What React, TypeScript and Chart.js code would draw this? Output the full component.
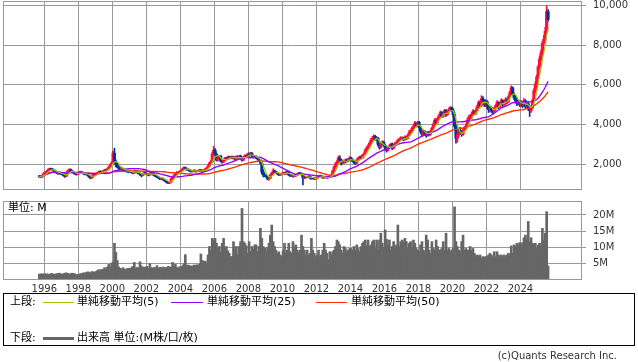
import React, { useEffect, useRef } from "react";
import { Chart, registerables } from "chart.js";

Chart.register(...registerables);

// ---- data (monthly, Sep 1995 .. Aug 2025) ----
const START_YEAR = 1995;
const START_MONTH = 8; // September, 0-based
const FIRST_OPEN = 1400;

const CLOSE = [
  1380, 1350, 1420, 1520, // 1995
  1580, 1620, 1700, 1760, 1740, 1720, 1650, 1600, 1560, 1520, 1560, 1500, // 1996
  1480, 1420, 1380, 1500, 1650, 1720, 1680, 1600, 1560, 1500, 1480, 1520, // 1997
  1560, 1600, 1550, 1520, 1480, 1500, 1440, 1350, 1300, 1380, 1450, 1480, // 1998
  1500, 1550, 1620, 1600, 1580, 1650, 1700, 1680, 1750, 1850, 1950, 2050, // 1999
  2550, 2100, 1950, 1850, 1800, 1750, 1780, 1700, 1680, 1650, 1620, 1600, // 2000
  1620, 1580, 1550, 1650, 1600, 1570, 1520, 1480, 1420, 1500, 1550, 1500, // 2001
  1480, 1450, 1550, 1520, 1480, 1420, 1380, 1350, 1300, 1250, 1280, 1220, // 2002
  1180, 1120, 1080, 1040, 1100, 1250, 1350, 1420, 1500, 1580, 1550, 1620, // 2003
  1680, 1750, 1820, 1780, 1700, 1720, 1650, 1620, 1650, 1680, 1620, 1650, // 2004
  1650, 1700, 1680, 1620, 1680, 1750, 1800, 1900, 2050, 2100, 2500, 2700, // 2005
  2500, 2200, 2300, 2400, 2150, 2100, 2200, 2300, 2250, 2350, 2300, 2350, // 2006
  2300, 2350, 2250, 2380, 2300, 2400, 2300, 2200, 2350, 2420, 2380, 2500, // 2007
  2450, 2550, 2400, 2350, 2400, 2300, 2250, 2200, 2050, 1600, 1450, 1400, // 2008
  1350, 1250, 1300, 1450, 1550, 1650, 1600, 1550, 1500, 1450, 1480, 1520, // 2009
  1550, 1500, 1600, 1580, 1450, 1400, 1420, 1380, 1400, 1450, 1500, 1550, // 2010
  1500, 1480, 1300, 1350, 1320, 1350, 1380, 1300, 1280, 1300, 1250, 1280, // 2011
  1330, 1380, 1400, 1350, 1300, 1320, 1330, 1310, 1340, 1360, 1450, 1650, // 2012
  1850, 2000, 2100, 2300, 2200, 2050, 2150, 2100, 2200, 2150, 2250, 2300, // 2013
  2200, 2150, 2100, 2050, 2200, 2300, 2350, 2300, 2450, 2500, 2700, 2800, // 2014
  2900, 3050, 3200, 3300, 3400, 3250, 3300, 3000, 2850, 3050, 3100, 2950, // 2015
  2800, 2700, 2850, 2900, 3000, 2800, 2950, 3050, 3100, 3200, 3250, 3300, // 2016
  3300, 3250, 3350, 3300, 3450, 3600, 3650, 3800, 3900, 4050, 3950, 4100, // 2017
  3850, 3650, 3500, 3650, 3550, 3450, 3600, 3500, 3650, 3800, 4000, 4200, // 2018
  4100, 4300, 4450, 4600, 4400, 4550, 4700, 4500, 4650, 4750, 4850, 4700, // 2019
  4500, 3900, 3300, 3500, 3700, 3600, 3500, 3700, 3800, 3900, 4200, 4350, // 2020
  4400, 4500, 4650, 4550, 4700, 4900, 5100, 4950, 5300, 5200, 5000, 5150, // 2021
  4900, 4750, 4850, 4700, 4650, 4800, 4950, 5100, 4900, 5050, 5200, 5000, // 2022
  5100, 5250, 5150, 5400, 5600, 5850, 5500, 5350, 5200, 5050, 5150, 5000, // 2023
  5100, 4950, 5200, 4900, 5050, 4800, 4700, 4850, 5200, 5700, 6000, 6400, // 2024
  6900, 7300, 7600, 8100, 8300, 8700, 9700, 9300, // 2025
];

const HIGH = [
  1430, 1410, 1450, 1560,
  1620, 1660, 1740, 1790, 1800, 1780, 1750, 1690, 1640, 1600, 1600, 1590,
  1540, 1510, 1460, 1530, 1680, 1760, 1760, 1700, 1630, 1590, 1540, 1560,
  1590, 1640, 1620, 1580, 1550, 1540, 1520, 1460, 1390, 1410, 1480, 1520,
  1540, 1580, 1650, 1660, 1640, 1680, 1740, 1740, 1790, 1890, 2000, 2120,
  2650, 2800, 2200, 2050, 1920, 1850, 1840, 1800, 1750, 1720, 1700, 1680,
  1680, 1660, 1620, 1700, 1690, 1640, 1600, 1560, 1500, 1530, 1590, 1580,
  1540, 1510, 1580, 1590, 1550, 1500, 1450, 1420, 1380, 1330, 1310, 1300,
  1250, 1210, 1150, 1110, 1130, 1280, 1380, 1470, 1560, 1620, 1610, 1650,
  1720, 1790, 1860, 1850, 1800, 1760, 1740, 1690, 1690, 1720, 1700, 1680,
  1700, 1740, 1730, 1700, 1710, 1780, 1830, 1950, 2100, 2180, 2600, 2900,
  2780, 2560, 2330, 2450, 2430, 2220, 2240, 2340, 2350, 2400, 2400, 2400,
  2400, 2400, 2380, 2420, 2420, 2440, 2450, 2340, 2380, 2460, 2470, 2550,
  2560, 2600, 2580, 2430, 2440, 2420, 2330, 2290, 2240, 2100, 1700, 1520,
  1450, 1390, 1350, 1480, 1580, 1760, 1700, 1640, 1590, 1540, 1510, 1560,
  1600, 1580, 1640, 1650, 1600, 1480, 1460, 1450, 1430, 1480, 1530, 1580,
  1580, 1550, 1500, 1380, 1380, 1370, 1410, 1400, 1330, 1330, 1320, 1300,
  1360, 1410, 1440, 1420, 1370, 1350, 1360, 1350, 1370, 1390, 1480, 1700,
  1900, 2080, 2180, 2400, 2420, 2250, 2200, 2200, 2250, 2260, 2300, 2380,
  2350, 2260, 2200, 2150, 2250, 2350, 2400, 2400, 2500, 2560, 2780, 2900,
  2980, 3120, 3300, 3400, 3480, 3450, 3380, 3350, 3050, 3100, 3180, 3150,
  3000, 2880, 2900, 2980, 3050, 3060, 2980, 3100, 3150, 3260, 3320, 3380,
  3380, 3360, 3420, 3400, 3500, 3700, 3720, 3880, 3980, 4150, 4100, 4150,
  4150, 3900, 3700, 3720, 3700, 3600, 3650, 3650, 3700, 3850, 4080, 4300,
  4280, 4350, 4500, 4680, 4650, 4600, 4760, 4750, 4700, 4820, 4900, 4880,
  4800, 4600, 4000, 3600, 3800, 3850, 3700, 3800, 3900, 4000, 4300, 4450,
  4500, 4600, 4750, 4700, 4780, 4980, 5200, 5150, 5450, 5400, 5250, 5250,
  5200, 5000, 4950, 4900, 4800, 4880, 5000, 5200, 5150, 5100, 5300, 5250,
  5180, 5350, 5300, 5450, 5680, 5950, 5900, 5600, 5450, 5280, 5250, 5200,
  5200, 5150, 5300, 5250, 5100, 5100, 4900, 4950, 5300, 5800, 6150, 6500,
  7000, 7450, 7750, 8200, 8500, 8900, 10000, 9800,
];

const LOW = [
  1330, 1310, 1320, 1400,
  1480, 1540, 1580, 1660, 1700, 1680, 1620, 1570, 1530, 1480, 1490, 1470,
  1450, 1390, 1330, 1360, 1480, 1620, 1650, 1570, 1520, 1470, 1440, 1450,
  1490, 1530, 1530, 1490, 1450, 1450, 1420, 1320, 1250, 1280, 1350, 1420,
  1450, 1480, 1520, 1560, 1540, 1560, 1620, 1640, 1660, 1720, 1820, 1920,
  2000, 2050, 1850, 1800, 1720, 1700, 1700, 1650, 1620, 1600, 1580, 1560,
  1560, 1540, 1500, 1530, 1570, 1540, 1490, 1430, 1350, 1400, 1480, 1470,
  1440, 1400, 1420, 1480, 1450, 1400, 1350, 1310, 1270, 1210, 1220, 1190,
  1150, 1090, 1040, 1010, 1020, 1080, 1220, 1320, 1390, 1470, 1510, 1520,
  1590, 1650, 1720, 1740, 1680, 1670, 1620, 1590, 1590, 1620, 1590, 1590,
  1610, 1620, 1650, 1590, 1600, 1660, 1720, 1780, 1880, 2000, 2080, 2450,
  2400, 2150, 2150, 2250, 2100, 2050, 2080, 2180, 2200, 2220, 2260, 2270,
  2260, 2260, 2200, 2220, 2270, 2270, 2260, 2150, 2170, 2320, 2340, 2350,
  2380, 2400, 2380, 2300, 2320, 2270, 2200, 2150, 2000, 1500, 1350, 1360,
  1320, 1200, 1190, 1280, 1420, 1520, 1560, 1520, 1470, 1410, 1420, 1450,
  1480, 1470, 1480, 1550, 1420, 1370, 1380, 1340, 1350, 1380, 1430, 1480,
  1460, 1440, 950, 1260, 1290, 1300, 1320, 1250, 1230, 1240, 1220, 1210,
  1260, 1310, 1350, 1330, 1280, 1280, 1300, 1280, 1290, 1320, 1340, 1430,
  1620, 1800, 1950, 2050, 2100, 1950, 2000, 2050, 2050, 2100, 2120, 2200,
  2150, 2100, 2020, 1980, 2020, 2160, 2260, 2240, 2280, 2350, 2460, 2650,
  2750, 2850, 3000, 3150, 3250, 3200, 3180, 2900, 2750, 2800, 2980, 2900,
  2700, 2600, 2650, 2780, 2850, 2720, 2760, 2900, 2980, 3050, 3150, 3200,
  3220, 3180, 3200, 3240, 3260, 3400, 3540, 3600, 3720, 3850, 3880, 3900,
  3800, 3550, 3380, 3450, 3480, 3350, 3400, 3420, 3450, 3600, 3750, 3950,
  4000, 4050, 4250, 4400, 4350, 4350, 4500, 4400, 4450, 4600, 4700, 4650,
  4400, 3800, 3050, 3100, 3400, 3500, 3400, 3450, 3650, 3750, 3850, 4150,
  4250, 4300, 4450, 4480, 4500, 4650, 4850, 4850, 4900, 5100, 4900, 4900,
  4800, 4600, 4650, 4600, 4500, 4600, 4750, 4900, 4800, 4850, 5000, 4900,
  4920, 5000, 5050, 5100, 5350, 5550, 5450, 5250, 5100, 4950, 4980, 4900,
  4900, 4850, 4900, 4800, 4850, 4700, 4400, 4600, 4800, 5150, 5600, 5900,
  6300, 6800, 7200, 7500, 8000, 8200, 8600, 9200,
];

// volume, millions
const VOLUME = [
  1.8, 1.9, 1.8, 1.9,
  1.8, 1.9, 1.8, 1.7, 1.9, 2.0, 1.8, 1.7, 1.9, 2.0, 2.1, 1.9,
  1.8, 1.9, 2.1, 2.2, 2.0, 1.8, 1.9, 2.1, 2.0, 1.9, 1.7, 1.6,
  1.8, 1.9, 2.0, 2.2, 2.1, 2.3, 2.5, 2.4, 2.2, 2.6, 2.4, 2.5,
  2.6, 2.9, 3.2, 2.8, 3.3, 3.1, 3.8, 3.2, 4.0, 4.8, 3.9, 5.2,
  5.5, 11.3, 8.5, 6.0, 4.0, 3.6, 3.3, 3.8, 3.4, 3.1, 3.5, 3.6,
  3.5, 3.8, 4.2, 5.4, 3.6, 3.9, 3.7, 5.6, 4.3, 3.8, 4.0, 3.9,
  4.2, 3.6, 5.0, 3.8, 3.6, 3.9, 3.7, 4.4, 3.5, 3.9, 3.6, 4.0,
  3.4, 3.9, 3.6, 4.2, 3.8, 4.0, 5.4, 4.3, 4.8, 3.9, 3.6, 4.1,
  3.8, 4.4, 5.0, 7.8, 4.5, 4.6, 4.4, 4.3, 4.1, 4.6, 4.4, 4.7,
  4.4, 4.8, 8.0, 6.0, 5.6, 5.8, 5.2, 7.7, 10.3, 9.0, 12.8, 12.3,
  12.8, 11.3, 9.7, 10.3, 8.5, 11.3, 12.8, 10.0, 10.3, 9.0, 8.2, 7.2,
  7.2, 11.8, 9.5, 10.3, 7.7, 10.3, 11.8, 22.0, 11.8, 11.3, 10.5, 8.2,
  11.8, 8.7, 10.3, 9.5, 10.8, 10.8, 8.7, 10.3, 15.9, 12.8, 10.3, 9.8,
  8.7, 10.0, 11.3, 13.8, 16.9, 11.8, 10.3, 9.2, 8.2, 8.7, 7.7, 7.2,
  9.0, 11.3, 8.2, 9.2, 11.3, 8.7, 8.2, 11.8, 10.0, 10.8, 9.2, 8.5,
  9.2, 13.8, 10.3, 9.2, 7.7, 9.2, 7.7, 8.2, 12.8, 9.2, 8.2, 7.2,
  7.7, 9.2, 7.2, 7.7, 9.2, 11.3, 9.2, 8.2, 6.2, 8.7, 7.7, 8.7,
  9.2, 10.3, 12.3, 11.8, 10.8, 9.2, 8.2, 10.3, 9.7, 8.7, 9.2, 9.7,
  9.7, 9.2, 10.3, 9.2, 10.8, 9.7, 8.7, 10.3, 11.3, 11.8, 12.3, 10.5,
  12.3, 10.3, 10.8, 11.8, 12.3, 9.7, 12.3, 9.2, 12.3, 14.4, 11.3, 10.0,
  15.4, 12.5, 10.8, 12.3, 9.2, 10.3, 11.8, 9.7, 10.8, 16.9, 10.3, 11.8,
  12.3, 11.8, 12.8, 11.8, 9.7, 11.3, 11.8, 9.7, 12.3, 11.3, 9.7, 9.2,
  8.7, 10.8, 11.8, 9.2, 8.7, 13.8, 12.3, 9.2, 8.2, 11.8, 9.7, 9.2,
  12.3, 10.3, 9.2, 9.2, 9.7, 11.8, 9.2, 14.4, 9.2, 9.7, 8.7, 9.2,
  9.7, 22.5, 11.8, 10.3, 9.2, 8.7, 11.8, 13.8, 9.2, 9.7, 9.2, 9.2,
  10.3, 9.2, 9.7, 8.2, 7.2, 7.7, 7.2, 7.7, 6.7, 7.2, 7.0, 7.2,
  7.2, 7.7, 8.2, 7.7, 7.2, 8.7, 7.2, 8.7, 7.7, 7.2, 7.7, 7.2,
  7.7, 7.2, 7.7, 8.2, 7.7, 10.5, 8.2, 10.8, 10.3, 11.3, 10.8, 11.5,
  10.8, 11.5, 13.0, 13.8, 12.3, 18.0, 11.8, 13.0, 11.3, 10.8, 11.3, 9.7,
  10.8, 11.3, 10.3, 15.9, 12.3, 14.4, 21.0, 4.3,
];

const YEAR_TICKS = [1996, 1998, 2000, 2002, 2004, 2006, 2008, 2010, 2012, 2014, 2016, 2018, 2020, 2022, 2024];
const PRICE_TICKS = [2000, 4000, 6000, 8000, 10000];
const VOLUME_TICKS = [5, 10, 15, 20];
const MA_PERIODS = [5, 25, 50];
const MA_LABELS = ["単純移動平均(5)", "単純移動平均(25)", "単純移動平均(50)"];
const MA_COLORS = ["#99cc00", "#9900ff", "#ff3300"];
const MA_WIDTHS = [1.2, 1.4, 1.4];
const UP_COLOR = "#ff0d3d";
const DOWN_COLOR = "#003399";
const VOL_COLOR = "#666666";
const GRID = "#999999";

const X_MIN = 1993.57;
const X_MAX = 2027.62;

const monthX = (i: number) => START_YEAR + (START_MONTH + i + 0.5) / 12;

function sma(values: number[], n: number): number[] {
  return values.map((_, i) => {
    const s = Math.max(0, i - n + 1);
    let sum = 0;
    for (let k = s; k <= i; k++) sum += values[k];
    return sum / (i - s + 1);
  });
}

const framePlugin = {
  id: "frame",
  afterDraw(chart: any) {
    const { ctx, chartArea: a } = chart;
    ctx.save();
    ctx.strokeStyle = GRID;
    ctx.lineWidth = 1;
    const l = Math.round(a.left) + 0.5;
    const t = Math.round(a.top) + 0.5;
    const r = Math.round(a.right) - 0.5;
    const b = Math.round(a.bottom) - 0.5;
    ctx.strokeRect(l, t, r - l, b - t);
    ctx.restore();
  },
};

const FONT = "'DejaVu Sans', sans-serif";
const JP_FONT = "'DejaVu Sans', 'Noto Sans CJK JP', sans-serif";

const zeroPad = (s: any) => {
  s.paddingTop = 0;
  s.paddingBottom = 0;
  s.paddingLeft = 0;
  s.paddingRight = 0;
};

function xScale(showLabels: boolean, height: number) {
  return {
    type: "linear",
    min: X_MIN,
    max: X_MAX,
    offset: false,
    afterBuildTicks: (s: any) => {
      s.ticks = YEAR_TICKS.map((v) => ({ value: v }));
    },
    afterFit: (s: any) => {
      s.height = height;
      zeroPad(s);
    },
    grid: { color: GRID, lineWidth: 1, drawTicks: false, offset: false },
    border: { display: false },
    ticks: {
      display: showLabels,
      autoSkip: false,
      maxRotation: 0,
      padding: 3,
      color: "#333",
      font: { family: FONT, size: 10 },
      callback: (v: any) => String(v),
    },
  };
}

function yScale(min: number, max: number, ticks: number[], fmt: (v: number) => string) {
  return {
    type: "linear",
    position: "right",
    min,
    max,
    afterBuildTicks: (s: any) => {
      s.ticks = ticks.map((v) => ({ value: v }));
    },
    afterFit: (s: any) => {
      s.width = 56;
      zeroPad(s);
    },
    grid: { color: GRID, lineWidth: 1, tickLength: 4 },
    border: { display: false },
    ticks: {
      padding: 7,
      color: "#333",
      font: { family: FONT, size: 10 },
      callback: (v: any) => fmt(Number(v)),
    },
  };
}

export default function App() {
  const priceRef = useRef<HTMLCanvasElement>(null);
  const volRef = useRef<HTMLCanvasElement>(null);

  useEffect(() => {
    const xs = CLOSE.map((_, i) => monthX(i));
    const opens = CLOSE.map((_, i) => (i === 0 ? FIRST_OPEN : CLOSE[i - 1]));
    const colors = CLOSE.map((c, i) => (c >= opens[i] ? UP_COLOR : DOWN_COLOR));

    const maSets = MA_PERIODS.map((p, k) => ({
      type: "line",
      label: MA_LABELS[k],
      data: sma(CLOSE, p).map((y, i) => ({ x: xs[i], y })),
      borderColor: MA_COLORS[k],
      borderWidth: MA_WIDTHS[k],
      pointRadius: 0,
      tension: 0,
      order: 0,
    }));

    const common = {
      responsive: false,
      animation: false,
      devicePixelRatio: 1,
      events: [],
      plugins: { legend: { display: false }, tooltip: { enabled: false } },
    };

    const price = new Chart(priceRef.current as HTMLCanvasElement, {
      type: "bar",
      data: {
        datasets: [
          ...maSets,
          {
            type: "bar",
            label: "body",
            data: xs.map((x, i) => ({ x, y: [opens[i], CLOSE[i]] })),
            backgroundColor: colors,
            barThickness: 2.5,
            grouped: false,
            order: 1,
          },
          {
            type: "bar",
            label: "wick",
            data: xs.map((x, i) => ({ x, y: [LOW[i], HIGH[i]] })),
            backgroundColor: colors,
            barThickness: 1,
            grouped: false,
            order: 2,
          },
        ] as any,
      },
      options: {
        ...common,
        layout: { padding: { left: 3, top: 1, right: 0, bottom: 0 } },
        scales: {
          x: xScale(false, 2) as any,
          y: yScale(690, 10230, PRICE_TICKS, (v) => v.toLocaleString("en-US")) as any,
        },
      },
      plugins: [framePlugin],
    } as any);

    const volume = new Chart(volRef.current as HTMLCanvasElement, {
      type: "bar",
      data: {
        datasets: [
          {
            label: "出来高",
            data: xs.map((x, i) => ({ x, y: VOLUME[i] })),
            backgroundColor: VOL_COLOR,
            barThickness: 2,
            grouped: false,
          },
        ] as any,
      },
      options: {
        ...common,
        layout: { padding: { left: 3, top: 6, right: 0, bottom: 0 } },
        scales: {
          x: xScale(true, 15) as any,
          y: yScale(0, 24.3, VOLUME_TICKS, (v) => `${v}M`) as any,
        },
      },
      plugins: [framePlugin],
    } as any);

    return () => {
      price.destroy();
      volume.destroy();
    };
  }, []);

  const txt: React.CSSProperties = {
    position: "absolute",
    fontFamily: JP_FONT,
    fontSize: 11,
    lineHeight: "14px",
    color: "#000",
    whiteSpace: "nowrap",
  };
  const line = (left: number, top: number, width: number, color: string, h: number): React.CSSProperties => ({
    position: "absolute",
    left,
    top,
    width,
    height: h,
    background: color,
  });

  return (
    <div
      style={{
        position: "fixed",
        left: 0,
        top: 0,
        width: 638,
        height: 362,
        background: "#fff",
        overflow: "hidden",
      }}
    >
      <canvas ref={priceRef} width={638} height={192} style={{ position: "absolute", left: 0, top: 0 }} />
      <canvas ref={volRef} width={638} height={100} style={{ position: "absolute", left: 0, top: 195 }} />
      <div style={{ ...txt, left: 8, top: 201 }}>単位: M</div>

      <div
        style={{
          position: "absolute",
          left: 3,
          top: 293,
          width: 632,
          height: 53,
          boxSizing: "border-box",
          border: "1px solid #000",
        }}
      />
      <div style={{ ...txt, left: 10, top: 295 }}>上段:</div>
      <div style={line(43, 302, 31, MA_COLORS[0], 1)} />
      <div style={{ ...txt, left: 77, top: 295 }}>{MA_LABELS[0]}</div>
      <div style={line(171, 302, 32, MA_COLORS[1], 1)} />
      <div style={{ ...txt, left: 207, top: 295 }}>{MA_LABELS[1]}</div>
      <div style={line(316, 302, 31, MA_COLORS[2], 1)} />
      <div style={{ ...txt, left: 351, top: 295 }}>{MA_LABELS[2]}</div>

      <div style={{ ...txt, left: 10, top: 331 }}>下段:</div>
      <div style={line(43, 337, 31, VOL_COLOR, 3)} />
      <div style={{ ...txt, left: 77, top: 331 }}>出来高 単位:(M株/口/枚)</div>

      <div
        style={{
          position: "absolute",
          right: 21,
          top: 349,
          fontFamily: FONT,
          fontSize: 10,
          lineHeight: "13px",
          color: "#333",
          whiteSpace: "nowrap",
        }}
      >
        (c)Quants Research Inc.
      </div>
    </div>
  );
}
